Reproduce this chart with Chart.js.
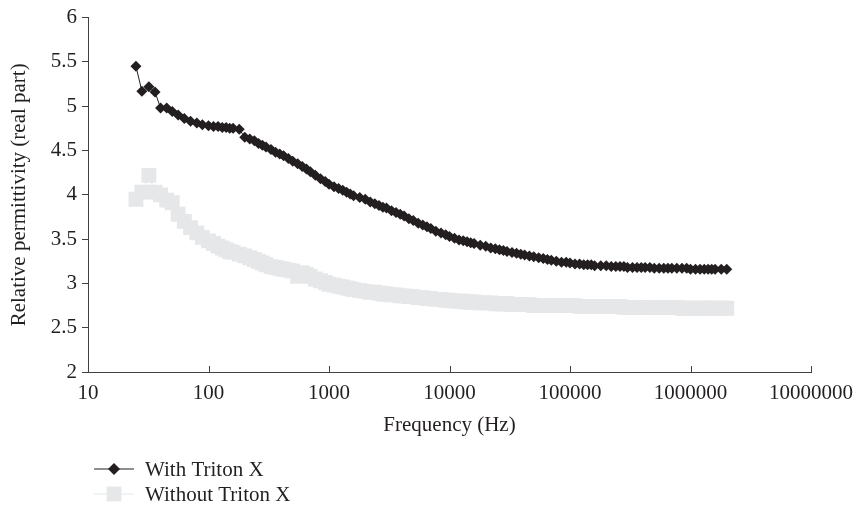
<!DOCTYPE html>
<html>
<head>
<meta charset="utf-8">
<title>Relative permittivity vs frequency</title>
<script src="https://cdn.jsdelivr.net/npm/chart.js@4.4.1/dist/chart.umd.min.js"></script>
<style>
  html, body { margin: 0; padding: 0; background: #fff; }
  #wrap { position: relative; width: 862px; height: 510px; }
</style>
</head>
<body>
<div id="wrap"><canvas id="permChart"></canvas></div>
<script>
    // measured frequencies (Hz)
    const frequencies = [
        25, 28, 32, 36, 40, 45, 50, 56, 63, 71, 80, 89,
        100, 110, 120, 130, 140, 150, 160, 180, 200, 220, 240, 260, 280, 300, 330, 360, 390, 420, 460, 500, 550, 600, 650, 700, 770, 850, 930,
        1000, 1100, 1200, 1300, 1400, 1500, 1600, 1800, 2000, 2200, 2400, 2600, 2800, 3000, 3300, 3600, 3900, 4200, 4600, 5000, 5500, 6000, 6500, 7000, 7700, 8500, 9300,
        10000, 11000, 12000, 13000, 14000, 15000, 16000, 18000, 20000, 22000, 24000, 26000, 28000, 30000, 33000, 36000, 39000, 42000, 46000, 50000, 55000, 60000, 65000, 70000, 77000, 85000, 93000,
        100000, 110000, 120000, 130000, 140000, 150000, 160000, 180000, 200000, 220000, 240000, 260000, 280000, 300000, 330000, 360000, 390000, 420000, 460000, 500000, 550000, 600000, 650000, 700000, 770000, 850000, 930000,
        1000000, 1100000, 1200000, 1300000, 1400000, 1500000, 1600000, 1800000, 2000000
    ];

    const withTriton = [
        5.45, 5.17, 5.22, 5.16, 4.98, 4.98, 4.94, 4.90, 4.86, 4.83, 4.81, 4.79,
        4.78, 4.77, 4.77, 4.76, 4.76, 4.75, 4.75, 4.74, 4.65, 4.63, 4.61, 4.58, 4.56, 4.54, 4.51, 4.48, 4.46, 4.44, 4.41, 4.38, 4.35, 4.32, 4.29, 4.26, 4.22, 4.18, 4.15,
        4.12, 4.09, 4.07, 4.05, 4.03, 4.01, 3.99, 3.97, 3.95, 3.92, 3.90, 3.88, 3.86, 3.85, 3.82, 3.80, 3.78, 3.76, 3.73, 3.71, 3.68, 3.66, 3.64, 3.62, 3.59, 3.57, 3.55,
        3.53, 3.51, 3.49, 3.48, 3.47, 3.46, 3.45, 3.43, 3.42, 3.40, 3.39, 3.38, 3.37, 3.36, 3.35, 3.34, 3.33, 3.32, 3.31, 3.30, 3.29, 3.28, 3.27, 3.26, 3.25, 3.24, 3.24,
        3.23, 3.22, 3.22, 3.21, 3.21, 3.21, 3.20, 3.20, 3.20, 3.19, 3.19, 3.19, 3.19, 3.18, 3.18, 3.18, 3.18, 3.18, 3.18, 3.17, 3.17, 3.17, 3.17, 3.17, 3.17, 3.17, 3.17,
        3.16, 3.16, 3.16, 3.16, 3.16, 3.16, 3.16, 3.16, 3.16
    ];

    const withoutTriton = [
        3.95, 4.03, 4.22, 4.03, 4.00, 3.94, 3.91, 3.78, 3.70, 3.63, 3.57, 3.52,
        3.48, 3.45, 3.42, 3.40, 3.38, 3.36, 3.35, 3.33, 3.31, 3.29, 3.27, 3.25, 3.23, 3.21, 3.19, 3.18, 3.17, 3.16, 3.15, 3.14, 3.08, 3.12, 3.10, 3.08, 3.05, 3.03, 3.01,
        2.99, 2.98, 2.97, 2.96, 2.95, 2.94, 2.93, 2.92, 2.91, 2.90, 2.90, 2.89, 2.88, 2.88, 2.87, 2.87, 2.86, 2.86, 2.85, 2.85, 2.84, 2.84, 2.83, 2.83, 2.82, 2.82, 2.81,
        2.81, 2.80, 2.80, 2.80, 2.79, 2.79, 2.79, 2.78, 2.78, 2.78, 2.77, 2.77, 2.77, 2.77, 2.76, 2.76, 2.76, 2.76, 2.76, 2.75, 2.75, 2.75, 2.75, 2.75, 2.75, 2.75, 2.75,
        2.75, 2.75, 2.74, 2.74, 2.74, 2.74, 2.74, 2.74, 2.74, 2.74, 2.74, 2.74, 2.73, 2.73, 2.73, 2.73, 2.73, 2.73, 2.73, 2.73, 2.73, 2.73, 2.73, 2.73, 2.73, 2.72, 2.72,
        2.72, 2.72, 2.72, 2.72, 2.72, 2.72, 2.72, 2.72, 2.72
    ];

    const seriesNames = ['With Triton X', 'Without Triton X'];
    const xTickValues = [10, 100, 1000, 10000, 100000, 1000000, 10000000];
    const yTickValues = [2, 2.5, 3, 3.5, 4, 4.5, 5, 5.5, 6];

    const inkColor = '#231f20';
    const axisColor = '#414042';
    const lightGray = '#e6e7e8';
    const serif = "'Liberation Serif', 'Times New Roman', serif";
    const textSize = 21;

    // x ticks in this chart point inwards (up into the plot)
    const innerTicks = {
        id: 'innerTicks',
        afterDraw(chart) {
            const xs = chart.scales.x;
            const ctx = chart.ctx;
            ctx.save();
            ctx.strokeStyle = axisColor;
            ctx.lineWidth = 1;
            xTickValues.forEach(v => {
                const px = Math.round(xs.getPixelForValue(v)) + 0.5;
                ctx.beginPath();
                ctx.moveTo(px, xs.top);
                ctx.lineTo(px, xs.top - 6);
                ctx.stroke();
            });
            ctx.restore();
        }
    };

    // legend stacked under the axis title, left aligned
    const stackedLegend = {
        id: 'stackedLegend',
        afterDraw(chart) {
            const ctx = chart.ctx;
            ctx.save();
            chart.data.datasets.forEach((ds, i) => {
                const y = 469 + i * 25;
                ctx.strokeStyle = ds.borderColor;
                ctx.lineWidth = 1.2;
                ctx.beginPath();
                ctx.moveTo(94, y);
                ctx.lineTo(134, y);
                ctx.stroke();
                ctx.fillStyle = ds.pointBackgroundColor;
                Chart.helpers.drawPoint(ctx, {
                    pointStyle: ds.pointStyle,
                    radius: ds.legendRadius,
                    rotation: 0,
                    borderWidth: 0
                }, 114, y);
                ctx.fillStyle = inkColor;
                ctx.font = textSize + 'px ' + serif;
                ctx.textBaseline = 'middle';
                ctx.textAlign = 'left';
                ctx.fillText(ds.label, 145, y + 1);
            });
            ctx.restore();
        }
    };

    const permCtx = document.getElementById('permChart').getContext('2d');
    new Chart(permCtx, {
        type: 'line',
        data: {
        datasets: [{
            label: seriesNames[0],
            data: frequencies.map((f, i) => ({ x: f, y: withTriton[i] })),
            borderColor: inkColor,
            backgroundColor: inkColor,
            pointBackgroundColor: inkColor,
            pointBorderWidth: 0,
            pointStyle: 'rectRot',
            pointRadius: 5.5,
            legendRadius: 6,
            borderWidth: 1,
            tension: 0,
            order: 1
        }, {
            label: seriesNames[1],
            data: frequencies.map((f, i) => ({ x: f, y: withoutTriton[i] })),
            borderColor: lightGray,
            backgroundColor: lightGray,
            pointBackgroundColor: lightGray,
            pointBorderWidth: 0,
            pointStyle: 'rect',
            pointRadius: 10.5,
            legendRadius: 10.5,
            borderWidth: 1,
            tension: 0,
            order: 2
        }]
        },
        options: {
        responsive: true,
        maintainAspectRatio: false,
        animation: false,
        layout: { padding: { left: 0, right: 46, top: 16, bottom: 72 } },
        plugins: {
            legend: { display: false },
            tooltip: { enabled: false }
        },
        scales: {
            x: {
                type: 'logarithmic',
                min: 10,
                max: 10000000,
                afterBuildTicks: s => { s.ticks = xTickValues.map(v => ({ value: v })); },
                afterFit: s => { s.height = 66; },
                ticks: {
                    callback: v => String(v),
                    autoSkip: false,
                    maxRotation: 0,
                    padding: 9,
                    color: inkColor,
                    font: { family: serif, size: textSize }
                },
                grid: { drawOnChartArea: false, drawTicks: false },
                border: { display: true, color: axisColor, width: 1 },
                title: {
                    display: true,
                    text: 'Frequency (Hz)',
                    color: inkColor,
                    font: { family: serif, size: textSize },
                    padding: { top: 0, bottom: 0 }
                }
            },
            y: {
                type: 'linear',
                min: 2,
                max: 6,
                afterBuildTicks: s => { s.ticks = yTickValues.map(v => ({ value: v })); },
                afterFit: s => { s.width = 88; },
                ticks: {
                    callback: v => String(v),
                    padding: 5,
                    color: inkColor,
                    font: { family: serif, size: textSize }
                },
                grid: { drawOnChartArea: false, drawTicks: true, tickLength: 6, color: axisColor },
                border: { display: true, color: axisColor, width: 1 },
                title: {
                    display: true,
                    text: 'Relative permittivity (real part)',
                    color: inkColor,
                    font: { family: serif, size: textSize },
                    padding: { top: 7, bottom: 0 }
                }
            }
        }
        },
        plugins: [innerTicks, stackedLegend]
    });
</script>
</body>
</html>
